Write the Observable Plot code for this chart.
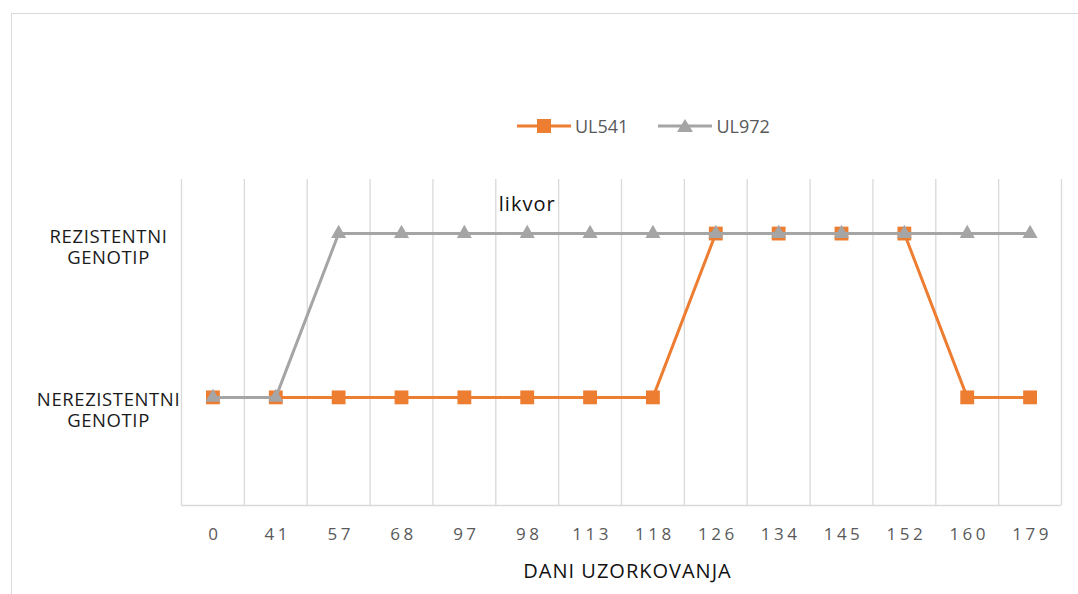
<!DOCTYPE html>
<html><head><meta charset="utf-8">
<script src="https://cdn.jsdelivr.net/npm/d3@7"></script>
<script src="https://cdn.jsdelivr.net/npm/@observablehq/plot@0.6"></script>
<style>
html,body{margin:0;padding:0;background:#fff;overflow:hidden;width:1078px;height:594px}
#wrap{position:relative;width:1078px;height:594px}
#frame{position:absolute;left:11px;top:13px;width:1100px;height:700px;border:1px solid #d9d9d9;box-sizing:border-box}
#legend{position:absolute;top:114px;left:517px;display:flex;gap:30px;font-family:"Open Sans",sans-serif;font-size:18px;color:#595959}
#legend .item{display:flex;align-items:center;gap:4px}
#chart{position:absolute;left:0;top:0}
#chart g[aria-label="x-axis tick label"] text{letter-spacing:3.5px}
#chart g[aria-label="y-axis tick label"] text{letter-spacing:0.6px}
#chart .ls text{letter-spacing:1px}
</style></head>
<body><div id="wrap"><div id="frame"></div><div id="legend"></div><div id="chart"></div></div>
<script>
const days = ["0","41","57","68","97","98","113","118","126","134","145","152","160","179"];
const ul541 = [0,0,0,0,0,0,0,0,1,1,1,1,0,0];
const ul972 = [0,0,1,1,1,1,1,1,1,1,1,1,1,1];
const seriesNames = ["UL541","UL972"];
const seriesColors = ["#ED7D31","#A5A5A5"];
const seriesSymbols = ["square","triangle"];
const yLabels = ["NEREZISTENTNI\nGENOTIP","REZISTENTNI\nGENOTIP"];
const annotations = [{day:"98", text:"likvor"}];
const xTitle = ["DANI UZORKOVANJA"];

const series = [ul541, ul972];
const rows = series.map((vals, s) => vals.map((v, i) => ({i, day: days[i], v, s})));

// legend
const legend = document.getElementById("legend");
seriesNames.forEach((name, s) => {
  const item = document.createElement("div");
  item.className = "item";
  const sym = s === 0
    ? `<rect x="20" y="5" width="14" height="14" fill="${seriesColors[s]}"/>`
    : `<path d="M27,5 L35,18 L19,18 Z" fill="${seriesColors[s]}"/>`;
  item.innerHTML = `<svg width="54" height="24"><line x1="0" x2="54" y1="12" y2="12" stroke="${seriesColors[s]}" stroke-width="3"/>${sym}</svg><span>${name}</span>`;
  legend.appendChild(item);
});

const chart = Plot.plot({
  width: 1078, height: 594,
  marginLeft: 181, marginRight: 17, marginTop: 179, marginBottom: 89,
  style: {fontFamily: "Open Sans, sans-serif", background: "transparent", overflow: "visible"},
  x: {type: "linear", domain: [-0.5, days.length - 0.5]},
  y: {domain: [-0.66, 1.33]},
  marks: [
    Plot.ruleX(d3.range(days.length + 1), {x: i => i - 0.5, stroke: "#d9d9d9", strokeWidth: 1.3, strokeOpacity: 1}),
    Plot.ruleY([-0.66], {stroke: "#d9d9d9", strokeWidth: 1.3, strokeOpacity: 1}),
    Plot.axisX({ticks: d3.range(days.length), tickFormat: i => days[i], tickSize: 0, tickPadding: 22, dx: 2, fontSize: 17, fill: "#595959", label: null}),
    Plot.axisY({ticks: [0, 1], tickFormat: i => yLabels[i], tickSize: 0, tickPadding: 73, textAnchor: "middle", lineAnchor: "top", dy: -6, fontSize: 18.5, fill: "#1a1a1a", lineHeight: 1.14, label: null}),
    ...rows.map((r, s) => [
      Plot.line(r, {x: "i", y: "v", stroke: seriesColors[s], strokeWidth: 3}),
      Plot.dot(r, {x: "i", y: "v", symbol: seriesSymbols[s], r: s === 0 ? 7.8 : 5.6, fill: seriesColors[s], stroke: null})
    ]).flat(),
    Plot.text(annotations, {x: d => days.indexOf(d.day), y: 1, text: "text", dy: -29, fontSize: 20, fill: "#111", className: "ls"}),
    Plot.text(xTitle, {frameAnchor: "bottom", dy: 72, dx: 6, text: d => d, fontSize: 20, fill: "#111", className: "ls"})
  ]
});
document.getElementById("chart").appendChild(chart);
</script></body></html>
